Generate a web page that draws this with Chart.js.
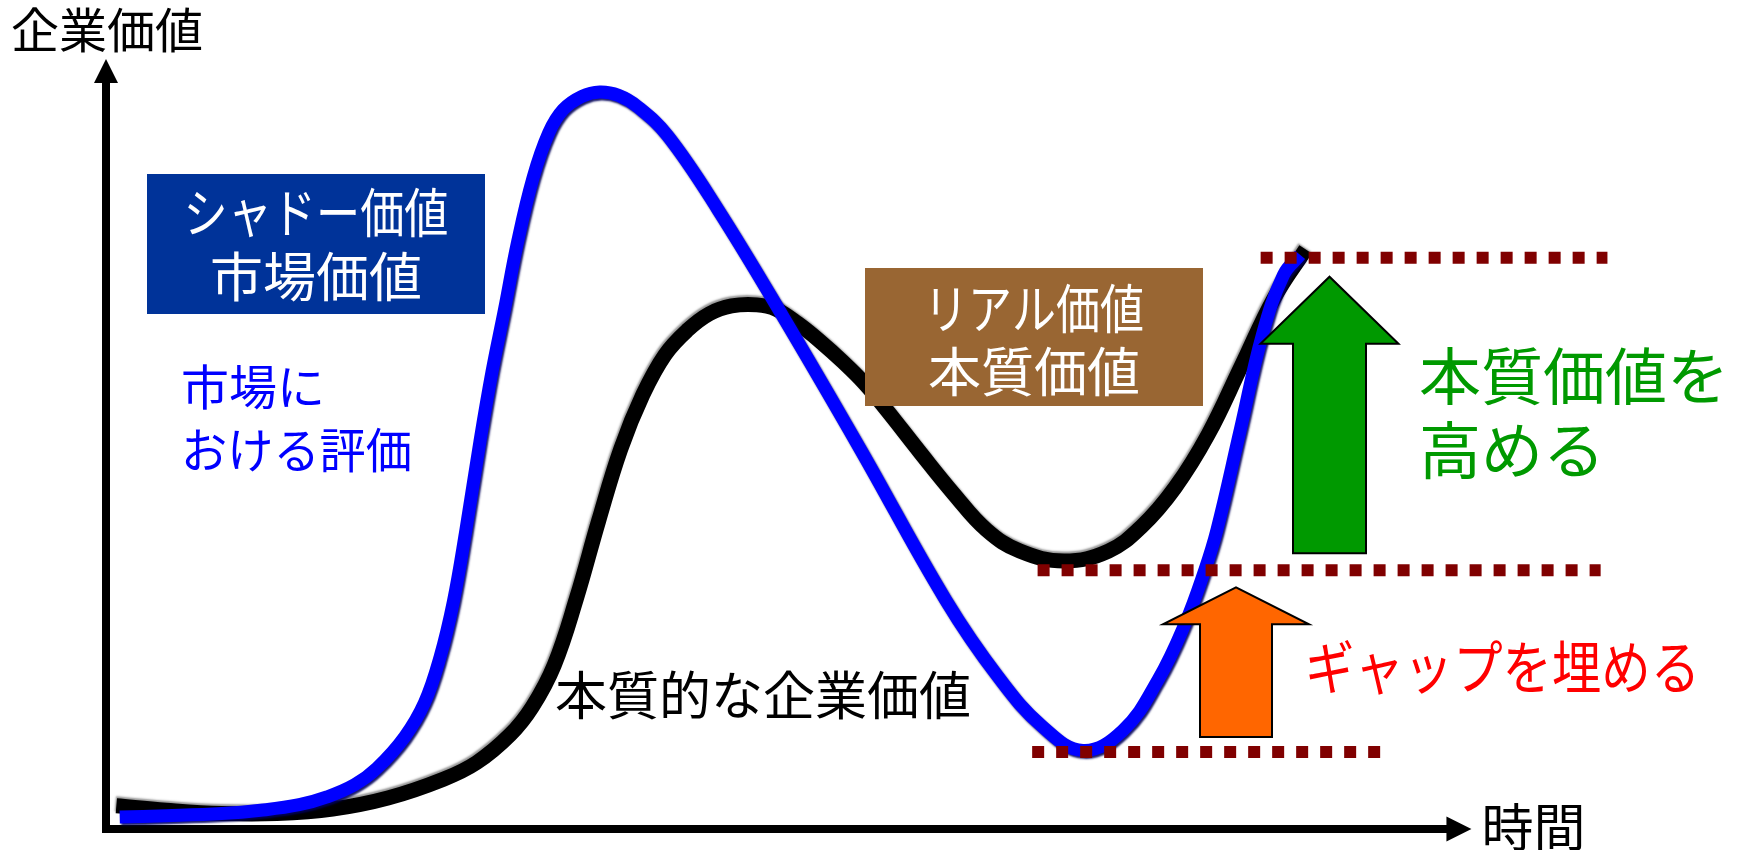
<!DOCTYPE html>
<html lang="ja">
<head>
<meta charset="utf-8">
<title>企業価値と時間</title>
<script src="https://cdn.jsdelivr.net/npm/chart.js@4.4.1/dist/chart.umd.min.js"></script>
<style>
  html, body { margin: 0; padding: 0; background: #fff; }
  #valueChart { display: block; }
</style>
</head>
<body>
<canvas id="valueChart" width="1738" height="850"></canvas>
<script>
// 市場における評価（シャドー価値）
const marketTime = [1.01, 4.43, 8.51, 11.36, 14.21, 16.25, 18.29, 19.92, 21.95, 23.42, 24.56, 25.54, 26.44, 27.50, 28.39, 29.29, 30.27, 31.41, 32.55, 33.61, 35.00, 36.30, 37.68, 39.07, 41.27, 44.94, 49.75, 55.45, 61.72, 65.56, 68.82, 71.83, 74.77, 77.37, 79.33, 80.80, 81.69, 83.40, 85.03, 86.58, 87.80];
const marketValue = [1.57, 1.72, 2.00, 2.43, 3.15, 4.16, 5.75, 7.90, 11.94, 16.40, 22.30, 29.50, 38.57, 50.37, 59.44, 67.36, 76.28, 84.63, 90.39, 93.41, 95.14, 95.71, 95.28, 93.84, 90.10, 80.60, 66.63, 49.36, 29.79, 19.85, 13.37, 10.21, 12.80, 19.42, 26.62, 33.67, 38.86, 51.81, 64.19, 71.96, 74.55];

// 本質的な企業価値（リアル価値）
const intrinsicTime = [0.76, 4.43, 8.51, 12.58, 16.66, 20.73, 24.81, 27.25, 29.70, 31.33, 32.96, 34.59, 36.22, 37.85, 39.48, 41.11, 42.74, 44.37, 46.00, 47.87, 49.26, 50.89, 52.52, 54.15, 55.78, 57.41, 59.85, 62.30, 64.74, 67.19, 70.45, 73.71, 76.15, 78.60, 81.04, 83.49, 85.93, 88.21];
const intrinsicValue = [3.01, 2.43, 2.00, 2.00, 2.58, 4.02, 6.46, 8.62, 12.22, 15.82, 21.29, 29.93, 40.00, 49.36, 56.42, 61.60, 64.76, 66.92, 67.93, 68.07, 67.50, 65.63, 63.32, 60.73, 57.86, 54.40, 48.93, 43.60, 38.85, 36.10, 34.80, 36.10, 39.29, 44.32, 51.23, 60.16, 69.08, 75.27];

// 点線で示す水準: 到達点 / 本質価値の底 / 市場評価の底
const levelValues = [74.2, 33.6, 10.0];
const levelFrom = [84.9, 68.5, 68.1];
const levelTo = [110.4, 109.9, 93.7];

const FONT = '"Noto Sans CJK JP", "Noto Sans CJK SC", sans-serif';

function toPoints(xs, ys) {
    return xs.map((x, i) => ({ x: x, y: ys[i] }));
}

const levelSets = levelValues.map((v, i) => ({
    data: [{ x: levelFrom[i], y: v }, { x: levelTo[i], y: v }],
    borderColor: '#800000',
    borderWidth: 12,
    borderDash: [12, 12],
    borderCapStyle: 'butt',
    pointRadius: 0,
    clip: false,
    order: 1
}));

function blockArrow(ctx, cx, yBottom, yTip, yNeck, stemHalf, headHalf, fill) {
    ctx.beginPath();
    ctx.moveTo(cx - stemHalf, yBottom);
    ctx.lineTo(cx - stemHalf, yNeck);
    ctx.lineTo(cx - headHalf, yNeck);
    ctx.lineTo(cx, yTip);
    ctx.lineTo(cx + headHalf, yNeck);
    ctx.lineTo(cx + stemHalf, yNeck);
    ctx.lineTo(cx + stemHalf, yBottom);
    ctx.closePath();
    ctx.fillStyle = fill;
    ctx.fill();
    ctx.lineWidth = 2;
    ctx.strokeStyle = '#000';
    ctx.stroke();
}

function label(ctx, text, x, y, size, color, align, maxWidth) {
    ctx.font = size + 'px ' + FONT;
    ctx.fillStyle = color;
    ctx.textAlign = align || 'left';
    ctx.textBaseline = 'middle';
    if (maxWidth) {
        ctx.fillText(text, x, y, maxWidth);
    } else {
        ctx.fillText(text, x, y);
    }
}

// 矢印付きの軸
const axesPlugin = {
    id: 'arrowAxes',
    beforeDatasetsDraw(chart) {
        const ctx = chart.ctx;
        const x = chart.scales.x, y = chart.scales.y;
        const x0 = x.getPixelForValue(0), y0 = y.getPixelForValue(0);
        const xEnd = x.getPixelForValue(100.4), yEnd = y.getPixelForValue(100);
        ctx.save();
        ctx.fillStyle = '#000';
        ctx.strokeStyle = '#000';
        ctx.lineWidth = 8;
        ctx.lineCap = 'butt';
        ctx.beginPath();
        ctx.moveTo(x0, y0 + 4);
        ctx.lineTo(x0, yEnd + 23);
        ctx.moveTo(x0 - 4, y0);
        ctx.lineTo(xEnd - 24, y0);
        ctx.stroke();
        ctx.beginPath();
        ctx.moveTo(x0, yEnd);
        ctx.lineTo(x0 - 12, yEnd + 24);
        ctx.lineTo(x0 + 12, yEnd + 24);
        ctx.closePath();
        ctx.fill();
        ctx.beginPath();
        ctx.moveTo(xEnd, y0);
        ctx.lineTo(xEnd - 25, y0 - 12.5);
        ctx.lineTo(xEnd - 25, y0 + 12.5);
        ctx.closePath();
        ctx.fill();
        ctx.restore();

        label(ctx, '企業価値', 11, 30, 48, '#000');
        label(ctx, '時間', xEnd + 10, y0 - 2, 52, '#000');
    }
};

// 線の立体感（影）
const shadePlugin = {
    id: 'lineShade',
    beforeDatasetDraw(chart, args) {
        const ctx = chart.ctx;
        ctx.save();
        if (args.index === 0) {
            ctx.shadowColor = 'rgba(0, 0, 90, 0.9)';
            ctx.shadowOffsetX = 1.5;
            ctx.shadowOffsetY = 2;
            ctx.shadowBlur = 2;
        } else if (args.index === 1) {
            ctx.shadowColor = 'rgba(140, 140, 140, 0.9)';
            ctx.shadowOffsetX = -1;
            ctx.shadowOffsetY = -2;
            ctx.shadowBlur = 2;
        }
    },
    afterDatasetDraw(chart) {
        chart.ctx.restore();
    }
};

// 説明ボックス・矢印・注記
const notesPlugin = {
    id: 'notes',
    afterDatasetsDraw(chart) {
        const ctx = chart.ctx;
        const y = chart.scales.y;
        const top = y.getPixelForValue(levelValues[0]);
        const mid = y.getPixelForValue(levelValues[1]);
        const low = y.getPixelForValue(levelValues[2]);

        ctx.save();
        ctx.fillStyle = '#003399';
        ctx.fillRect(147, 174, 338, 140);
        label(ctx, 'シャドー価値', 316, 213, 53, '#fff', 'center', 265);
        label(ctx, '市場価値', 316, 277, 53, '#fff', 'center');

        ctx.fillStyle = '#996633';
        ctx.fillRect(865, 268, 338, 138);
        label(ctx, 'リアル価値', 1034, 309, 53, '#fff', 'center', 220);
        label(ctx, '本質価値', 1034, 372, 53, '#fff', 'center');

        label(ctx, '市場に', 181, 387, 48, '#0000ff');
        label(ctx, 'おける評価', 181, 450, 48, '#0000ff', 'left', 231);
        label(ctx, '本質的な企業価値', 555, 695, 52, '#000', 'left', 418);

        blockArrow(ctx, 1236, low - 15, mid + 17, mid + 54, 36, 73, '#ff6600');
        blockArrow(ctx, 1329.5, mid - 17, top + 19, top + 86, 36.5, 69, '#009900');

        label(ctx, 'ギャップを埋める', 1305, 667, 58, '#ff0000', 'left', 395);
        label(ctx, '本質価値を', 1419, 376, 62, '#009900', 'left', 316);
        label(ctx, '高める', 1419, 450, 62, '#009900');
        ctx.restore();
    }
};

new Chart(document.getElementById('valueChart').getContext('2d'), {
    type: 'line',
    data: {
        datasets: [
            {
                label: '市場における評価',
                data: toPoints(marketTime, marketValue),
                borderColor: '#0000ff',
                borderWidth: 13,
                tension: 0.4,
                pointRadius: 0,
                clip: false,
                order: 2
            },
            {
                label: '本質的な企業価値',
                data: toPoints(intrinsicTime, intrinsicValue),
                borderColor: '#000000',
                borderWidth: 15,
                tension: 0.4,
                pointRadius: 0,
                clip: false,
                order: 3
            }
        ].concat(levelSets)
    },
    options: {
        responsive: false,
        animation: false,
        layout: { padding: { left: 106, right: 0, top: 59, bottom: 21 } },
        plugins: { legend: { display: false }, tooltip: { enabled: false } },
        scales: {
            x: { type: 'linear', min: 0, max: 120, display: false },
            y: { min: 0, max: 100, display: false }
        }
    },
    plugins: [axesPlugin, shadePlugin, notesPlugin]
});
</script>
</body>
</html>
